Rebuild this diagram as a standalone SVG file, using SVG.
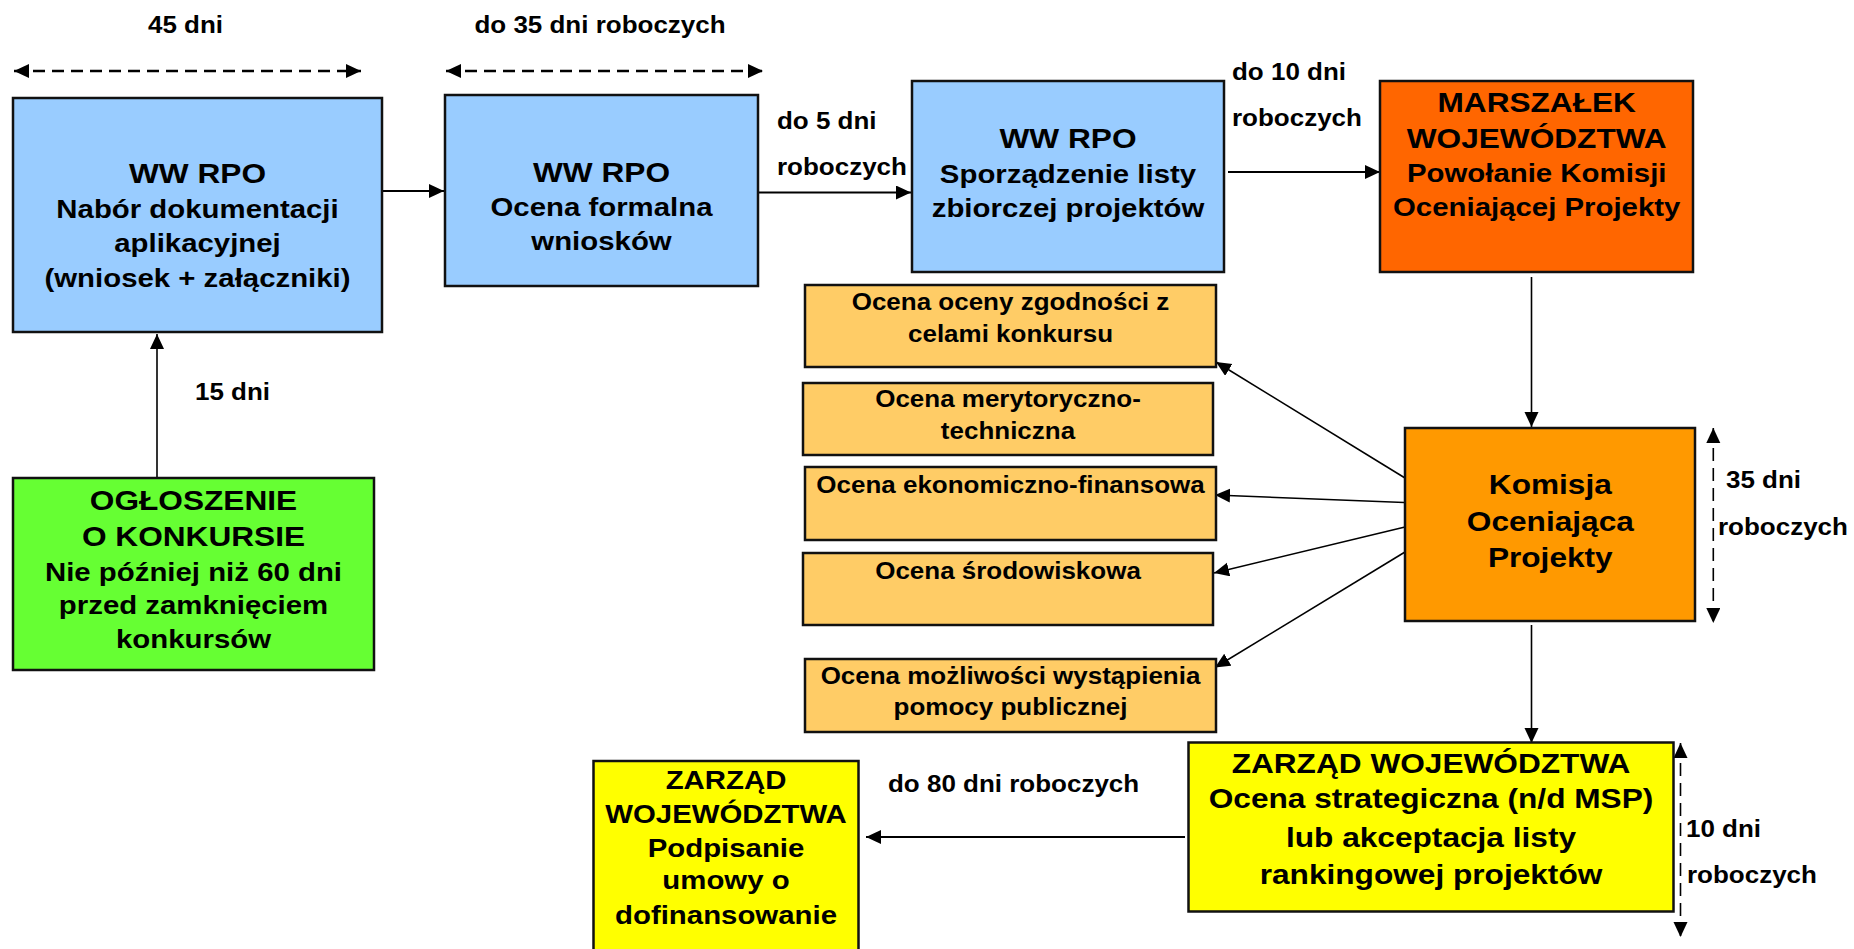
<svg xmlns="http://www.w3.org/2000/svg" width="1854" height="949" viewBox="0 0 1854 949">
<defs>
<style>
.box{stroke:#111;stroke-width:2.5}
.t{font-family:"Liberation Sans",Arial,sans-serif;font-weight:bold;fill:#000}
.c{text-anchor:middle}
.f28{font-size:28px}
.f26{font-size:26px}
.f23{font-size:23px}
.ln{fill:none;stroke:#000;stroke-width:2}
.thin{fill:none;stroke:#000;stroke-width:1.6}
.dash{fill:none;stroke:#000;stroke-width:2.6;stroke-dasharray:12 7}
.dashv{fill:none;stroke:#000;stroke-width:1.6;stroke-dasharray:13 7}
</style>
<marker id="ah" markerUnits="userSpaceOnUse" markerWidth="16" markerHeight="16" refX="15" refY="7" orient="auto-start-reverse">
<path d="M0,0 L15,7 L0,14 Z" fill="#000"/>
</marker>
</defs>
<rect width="1854" height="949" fill="#fff"/>

<g id="connectors">
<line class="dash" x1="14" y1="71" x2="361" y2="71" marker-start="url(#ah)" marker-end="url(#ah)"/>
<line class="dash" x1="446" y1="71" x2="763" y2="71" marker-start="url(#ah)" marker-end="url(#ah)"/>
<line class="ln" x1="383" y1="191" x2="444" y2="191" marker-end="url(#ah)"/>
<line class="ln" x1="758" y1="192.5" x2="911" y2="192.5" marker-end="url(#ah)"/>
<line class="ln" x1="1228" y1="172" x2="1380" y2="172" marker-end="url(#ah)"/>
<line class="thin" x1="1531.5" y1="277" x2="1531.5" y2="427" marker-end="url(#ah)"/>
<line class="thin" x1="1405" y1="478" x2="1216" y2="362" marker-end="url(#ah)"/>
<line class="thin" x1="1417" y1="503" x2="1215" y2="495" marker-end="url(#ah)"/>
<line class="thin" x1="1405" y1="527" x2="1214" y2="573" marker-end="url(#ah)"/>
<line class="thin" x1="1405" y1="552" x2="1215" y2="667.5" marker-end="url(#ah)"/>
<line class="thin" x1="1531.5" y1="625" x2="1531.5" y2="743" marker-end="url(#ah)"/>
<line class="ln" x1="1185" y1="837" x2="866" y2="837" marker-end="url(#ah)"/>
<line class="thin" x1="157" y1="478" x2="157" y2="334" marker-end="url(#ah)"/>
<line class="dashv" x1="1713.3" y1="428" x2="1713.3" y2="623" marker-start="url(#ah)" marker-end="url(#ah)"/>
<line class="dashv" x1="1680.5" y1="743" x2="1680.5" y2="937" marker-start="url(#ah)" marker-end="url(#ah)"/>
</g>

<g id="labels">
<text class="t f23" transform="translate(148,0) scale(1.13,1)"><tspan x="0" y="33">45 dni</tspan></text>
<text class="t f23 c" transform="translate(600,0) scale(1.13,1)"><tspan x="0" y="33">do 35 dni roboczych</tspan></text>
<text class="t f23" transform="translate(777,0) scale(1.13,1)"><tspan x="0" y="129">do 5 dni</tspan><tspan x="0" y="175">roboczych</tspan></text>
<text class="t f23" transform="translate(1232,0) scale(1.13,1)"><tspan x="0" y="80.5">do 10 dni</tspan><tspan x="0" y="126">roboczych</tspan></text>
<text class="t f23" transform="translate(195,0) scale(1.13,1)"><tspan x="0" y="400">15 dni</tspan></text>
<text class="t f23" transform="translate(1726,0) scale(1.13,1)"><tspan x="0" y="488">35 dni</tspan></text>
<text class="t f23" transform="translate(1718,0) scale(1.13,1)"><tspan x="0" y="535">roboczych</tspan></text>
<text class="t f23" transform="translate(888,0) scale(1.13,1)"><tspan x="0" y="792">do 80 dni roboczych</tspan></text>
<text class="t f23" transform="translate(1686,0) scale(1.13,1)"><tspan x="0" y="837">10 dni</tspan></text>
<text class="t f23" transform="translate(1687,0) scale(1.13,1)"><tspan x="0" y="883">roboczych</tspan></text>
</g>

<g id="nabor">
<rect class="box" x="13" y="98" width="369" height="234" fill="#99CCFF"/>
<text class="t f26 c" transform="translate(197.5,0) scale(1.13,1)"><tspan x="0" y="183" class="f28">WW RPO</tspan><tspan x="0" y="218">Nabór dokumentacji</tspan><tspan x="0" y="252">aplikacyjnej</tspan><tspan x="0" y="287">(wniosek + załączniki)</tspan></text>
</g>

<g id="ocena-formalna">
<rect class="box" x="445" y="95" width="313" height="191" fill="#99CCFF"/>
<text class="t f26 c" transform="translate(601.5,0) scale(1.13,1)"><tspan x="0" y="182" class="f28">WW RPO</tspan><tspan x="0" y="216">Ocena formalna</tspan><tspan x="0" y="250">wniosków</tspan></text>
</g>

<g id="lista">
<rect class="box" x="912" y="81" width="312" height="191" fill="#99CCFF"/>
<text class="t f26 c" transform="translate(1068,0) scale(1.13,1)"><tspan x="0" y="148" class="f28">WW RPO</tspan><tspan x="0" y="183">Sporządzenie listy</tspan><tspan x="0" y="217">zbiorczej projektów</tspan></text>
</g>

<g id="marszalek">
<rect class="box" x="1380" y="81" width="313" height="191" fill="#FF6600"/>
<text class="t f26 c" transform="translate(1536.7,0) scale(1.13,1)"><tspan x="0" y="112" class="f28">MARSZAŁEK</tspan><tspan x="0" y="148" class="f28">WOJEWÓDZTWA</tspan><tspan x="0" y="182">Powołanie Komisji</tspan><tspan x="0" y="216">Oceniającej Projekty</tspan></text>
</g>

<g id="ocena1">
<rect class="box" x="805" y="285" width="411" height="82" fill="#FFCC66"/>
<text class="t f23 c" transform="translate(1010.5,0) scale(1.13,1)"><tspan x="0" y="310.5">Ocena oceny zgodności z</tspan><tspan x="0" y="342">celami konkursu</tspan></text>
</g>

<g id="ocena2">
<rect class="box" x="803" y="383" width="410" height="72" fill="#FFCC66"/>
<text class="t f23 c" transform="translate(1008,0) scale(1.13,1)"><tspan x="0" y="407.5">Ocena merytoryczno-</tspan><tspan x="0" y="439">techniczna</tspan></text>
</g>

<g id="ocena3">
<rect class="box" x="805" y="467" width="411" height="73" fill="#FFCC66"/>
<text class="t f23 c" transform="translate(1010.5,0) scale(1.13,1)"><tspan x="0" y="493">Ocena ekonomiczno-finansowa</tspan></text>
</g>

<g id="ocena4">
<rect class="box" x="803" y="553" width="410" height="72" fill="#FFCC66"/>
<text class="t f23 c" transform="translate(1008,0) scale(1.13,1)"><tspan x="0" y="579">Ocena środowiskowa</tspan></text>
</g>

<g id="ocena5">
<rect class="box" x="805" y="659" width="411" height="73" fill="#FFCC66"/>
<text class="t f23 c" transform="translate(1010.5,0) scale(1.13,1)"><tspan x="0" y="684">Ocena możliwości wystąpienia</tspan><tspan x="0" y="715">pomocy publicznej</tspan></text>
</g>

<g id="komisja">
<rect class="box" x="1405" y="428" width="290" height="193" fill="#FF9900"/>
<text class="t f28 c" transform="translate(1550.3,0) scale(1.13,1)"><tspan x="0" y="494">Komisja</tspan><tspan x="0" y="531">Oceniająca</tspan><tspan x="0" y="567">Projekty</tspan></text>
</g>

<g id="ogloszenie">
<rect class="box" x="13" y="478" width="361" height="192" fill="#66FF33"/>
<text class="t f26 c" transform="translate(193.5,0) scale(1.13,1)"><tspan x="0" y="510" class="f28">OGŁOSZENIE</tspan><tspan x="0" y="546" class="f28">O KONKURSIE</tspan><tspan x="0" y="581">Nie później niż 60 dni</tspan><tspan x="0" y="614">przed zamknięciem</tspan><tspan x="0" y="648">konkursów</tspan></text>
</g>

<g id="zarzad-ocena">
<rect class="box" x="1188.5" y="742.5" width="485" height="169" fill="#FFFF00"/>
<text class="t f28 c" transform="translate(1431,0) scale(1.13,1)"><tspan x="0" y="773">ZARZĄD WOJEWÓDZTWA</tspan><tspan x="0" y="808">Ocena strategiczna (n/d MSP)</tspan><tspan x="0" y="847">lub akceptacja listy</tspan><tspan x="0" y="884">rankingowej projektów</tspan></text>
</g>

<g id="zarzad-umowa">
<rect class="box" x="593.5" y="761" width="265" height="200" fill="#FFFF00"/>
<text class="t f26 c" transform="translate(726,0) scale(1.13,1)"><tspan x="0" y="789">ZARZĄD</tspan><tspan x="0" y="823">WOJEWÓDZTWA</tspan><tspan x="0" y="857">Podpisanie</tspan><tspan x="0" y="889">umowy o</tspan><tspan x="0" y="924">dofinansowanie</tspan></text>
</g>
</svg>
